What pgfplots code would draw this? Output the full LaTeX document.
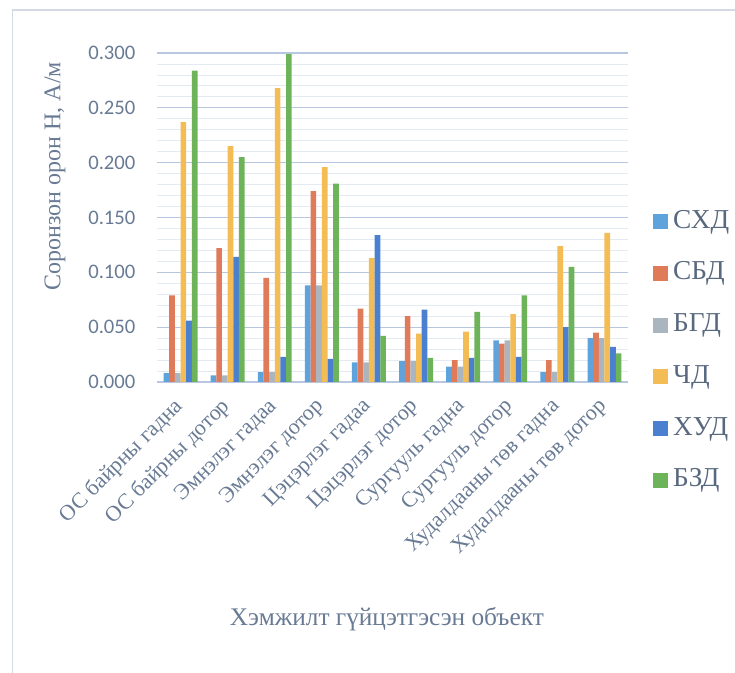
\documentclass[border=0pt]{standalone}
\usepackage{fontspec}
\setmainfont{Liberation Serif}
\newfontfamily\tickfont{Carlito}
\usepackage{pgfplots}
\usepackage{pgfplotstable}
\pgfplotsset{compat=1.18}

\definecolor{cSXD}{HTML}{5FA3DC}
\definecolor{cSBD}{HTML}{E07B5A}
\definecolor{cBGD}{HTML}{AAB5BF}
\definecolor{cCHD}{HTML}{F3BC55}
\definecolor{cXUD}{HTML}{4A80CF}
\definecolor{cBZD}{HTML}{6DB35A}
\definecolor{txt}{HTML}{687A94}
\definecolor{gridmaj}{HTML}{B7C7E0}
\definecolor{gridmin}{HTML}{E4EAF3}
\definecolor{frame}{HTML}{D3DAE4}

% Magnetic field H (A/m) per measurement site and district
\pgfplotstableread{
idx sxd   sbd   bgd   chd   xud   bzd
0   0.008 0.079 0.008 0.237 0.056 0.284
1   0.006 0.122 0.006 0.215 0.114 0.205
2   0.009 0.095 0.009 0.268 0.023 0.299
3   0.088 0.174 0.088 0.196 0.021 0.181
4   0.018 0.067 0.018 0.113 0.134 0.042
5   0.019 0.060 0.019 0.044 0.066 0.022
6   0.014 0.020 0.014 0.046 0.022 0.064
7   0.038 0.035 0.038 0.062 0.023 0.079
8   0.009 0.020 0.009 0.124 0.050 0.105
9   0.040 0.045 0.040 0.136 0.032 0.026
}\fielddata

\begin{document}
\begin{tikzpicture}[x=0.75pt,y=0.75pt]
\begin{axis}[
  width=353.25pt, height=246.75pt, scale only axis,
  ybar=0pt, bar width=0.12,
  xmin=-0.5, xmax=9.5,
  ymin=0, ymax=0.3,
  clip=false,
  axis line style={draw=none},
  major tick length=0pt, minor tick length=0pt,
  ymajorgrids, yminorgrids, minor y tick num=4,
  major grid style={gridmaj, line width=0.9pt},
  minor grid style={gridmin, line width=0.6pt},
  ytick={0,0.05,0.1,0.15,0.2,0.25,0.3},
  yticklabel style={/pgf/number format/.cd, fixed, fixed zerofill, precision=3,
    /pgf/number format/assume math mode=true, /tikz/.cd,
    font=\tickfont\fontsize{15.5}{16}\selectfont, text=txt,
    anchor=east, inner sep=0pt, xshift=-16pt},
  xtick={0,...,9},
  xticklabels={ОС байрны гадна, ОС байрны дотор, Эмнэлэг гадаа, Эмнэлэг дотор,
    Цэцэрлэг гадаа, Цэцэрлэг дотор, Сургууль гадна, Сургууль дотор,
    Худалдааны төв гадна, Худалдааны төв дотор},
  xticklabel style={font=\fontsize{16.5}{17}\selectfont, text=txt,
    yshift=-16pt, xshift=-0.5pt, rotate=45, anchor=east, inner sep=0pt},
  ylabel={Соронзон орон H, А/м},
  every axis y label/.style={at={(axis description cs:-0.2166,0.626)},
    rotate=90, anchor=center},
  ylabel style={font=\fontsize{18}{20}\selectfont, text=txt},
  xlabel={Хэмжилт гүйцэтгэсэн объект},
  every axis x label/.style={at={(axis description cs:0.488,-0.72)},
    anchor=center},
  xlabel style={font=\fontsize{19}{21}\selectfont, text=txt},
  every axis plot/.append style={draw=none,
    legend image code/.code={\fill[##1] (0pt,-5.6pt) rectangle (11.25pt,5.6pt);}},
  legend style={at={(axis description cs:1.053,0.094)}, anchor=west,
    draw=none, fill=none, inner sep=0pt,
    font=\fontsize{20.5}{21}\selectfont, text=txt!85!black,
    row sep=23.3pt, column sep=3.75pt,
    nodes={inner sep=0pt, text height=12.5pt, text depth=3pt}},
  legend cell align=left,
]
\addplot[fill=cSXD] table[x=idx, y=sxd] {\fielddata};
\addplot[fill=cSBD] table[x=idx, y=sbd] {\fielddata};
\addplot[fill=cBGD] table[x=idx, y=bgd] {\fielddata};
\addplot[fill=cCHD] table[x=idx, y=chd] {\fielddata};
\addplot[fill=cXUD] table[x=idx, y=xud] {\fielddata};
\addplot[fill=cBZD] table[x=idx, y=bzd] {\fielddata};
\legend{СХД, СБД, БГД, ЧД, ХУД, БЗД}
\end{axis}
% chart frame, measured from the plot area's lower-left corner
\draw[frame, line width=0.9pt] (-144.5,372) rectangle (640,-340);
% page area: 735 x 673 px around the plot area
\pgfresetboundingbox
\path[use as bounding box] (-157,-291) rectangle (578,382);
\end{tikzpicture}
\end{document}
